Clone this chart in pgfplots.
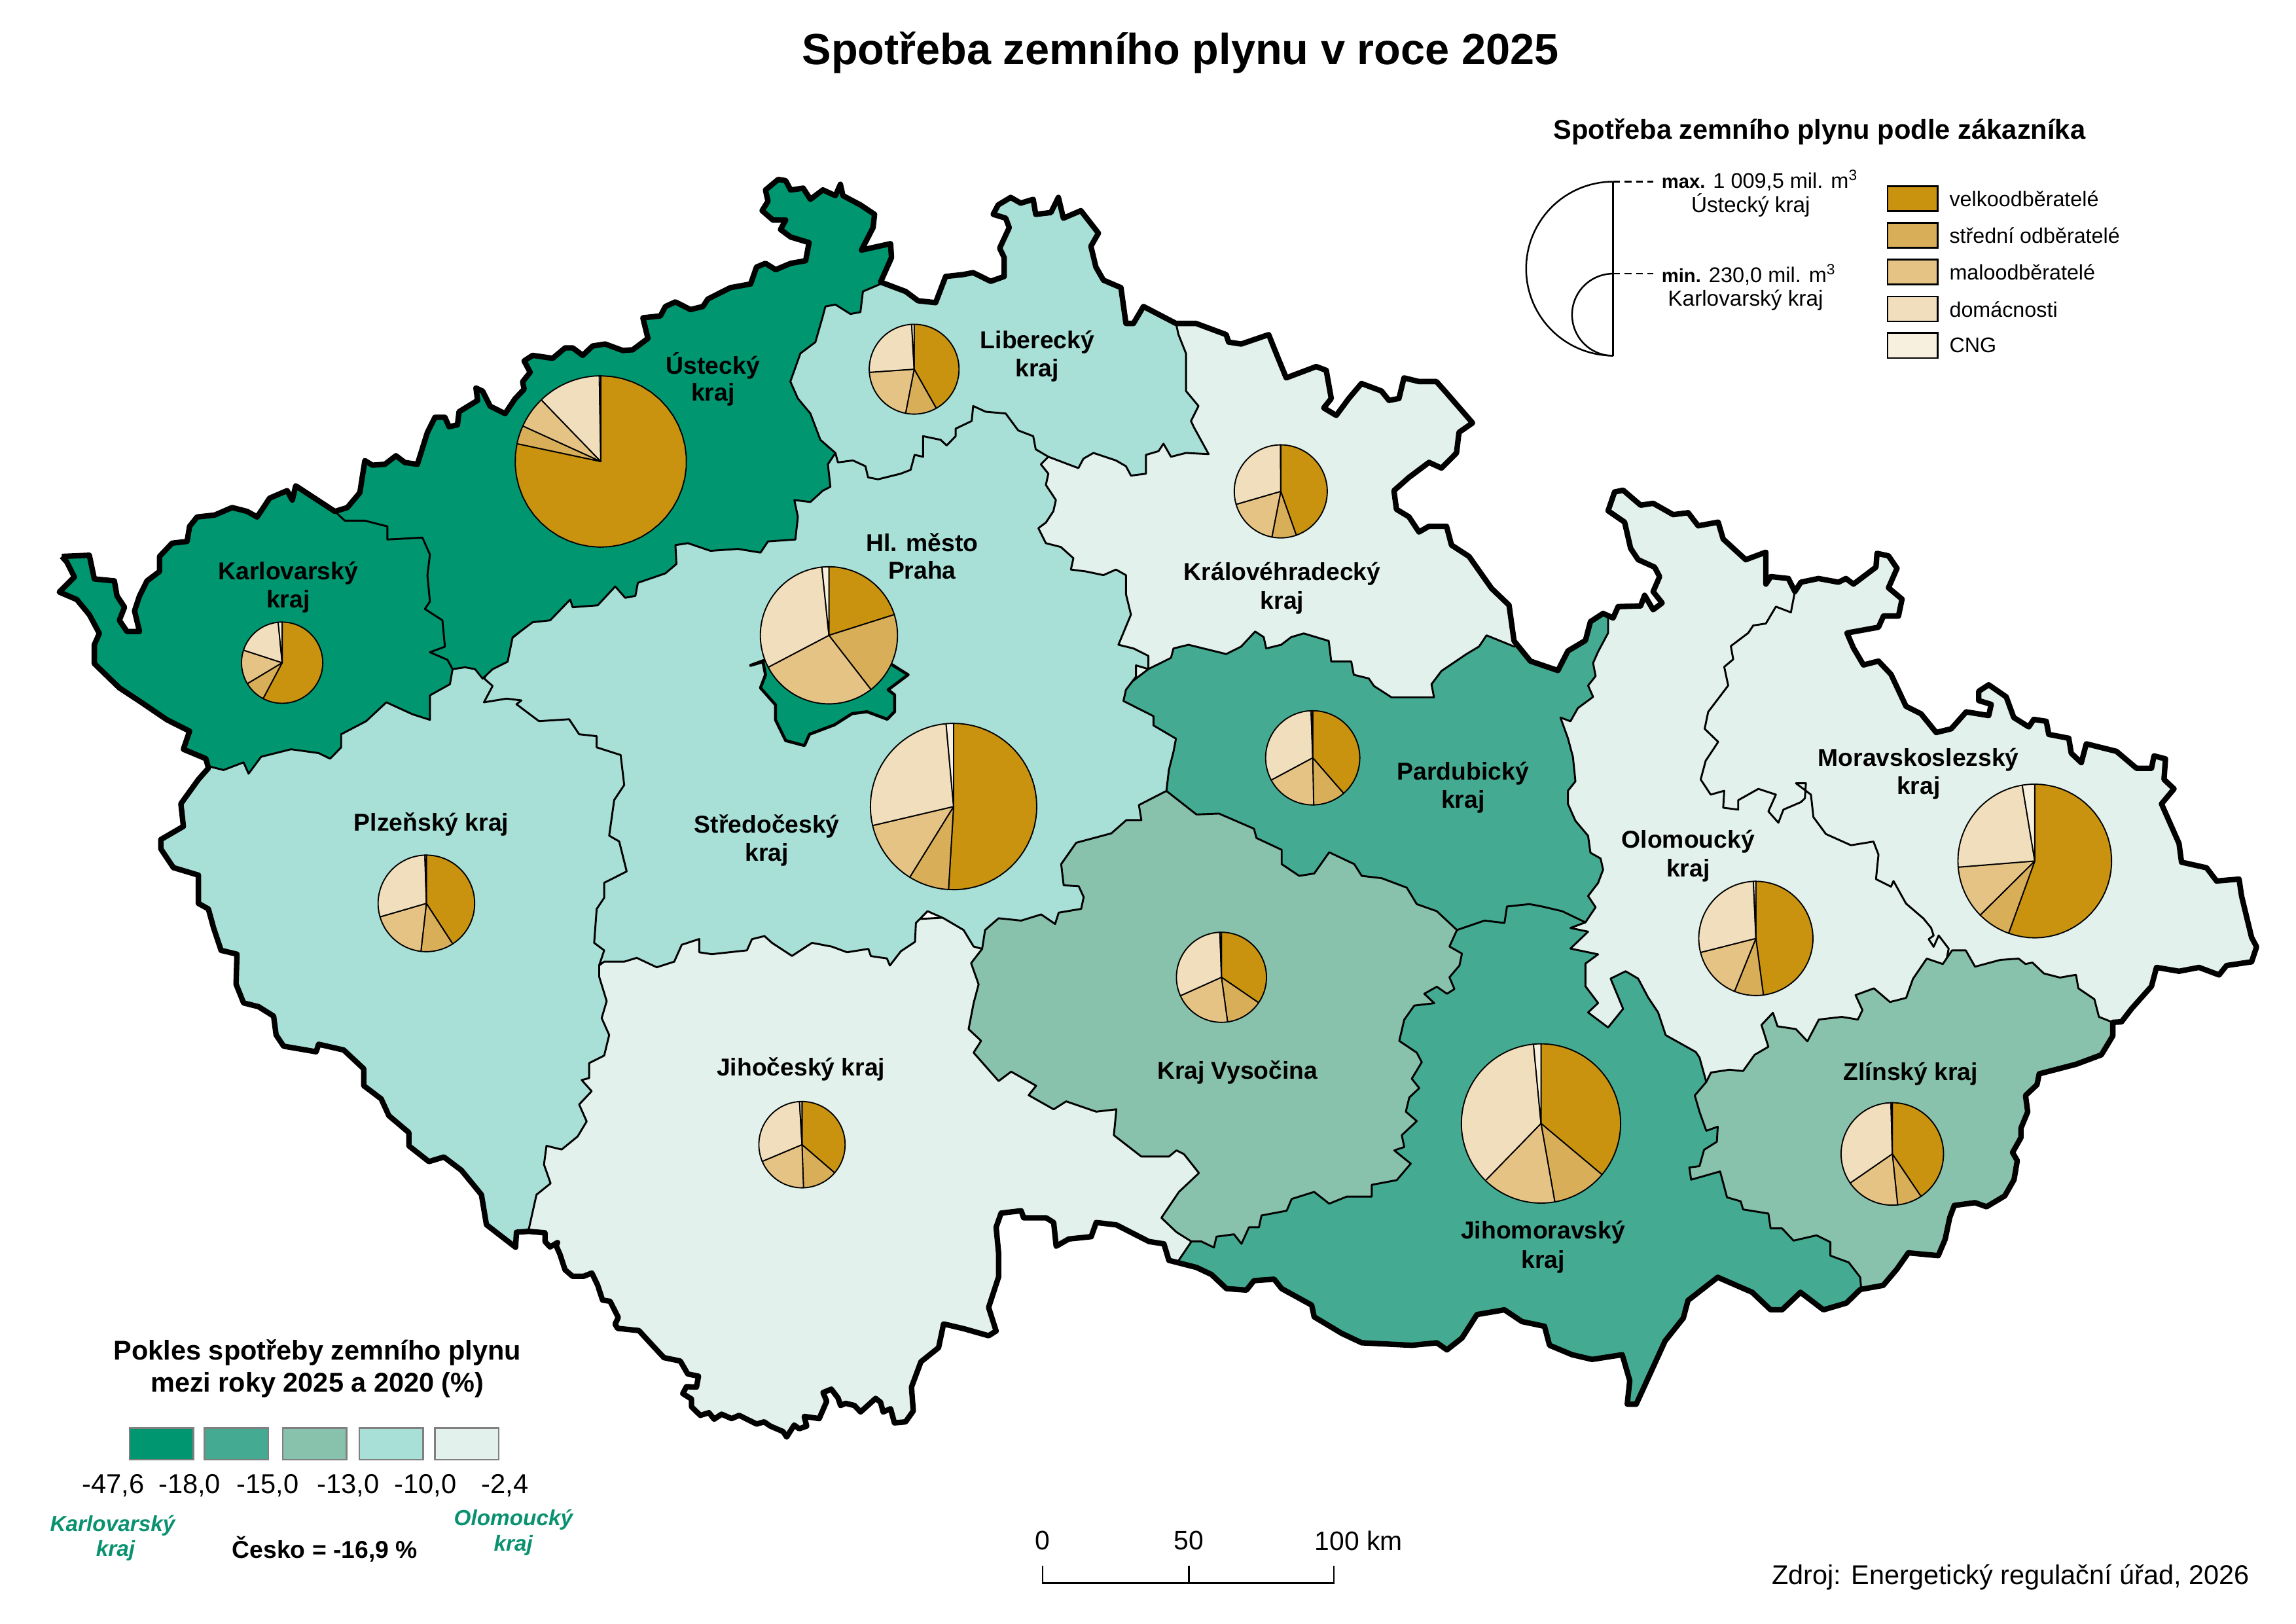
\documentclass[border=0pt]{standalone}
\usepackage{pgfplots}
\usepackage{pgfplotstable}
\usepackage{fontspec}
\setmainfont{Liberation Sans}
\pgfplotsset{compat=1.18}
\definecolor{c1}{HTML}{009670}
\definecolor{c2}{HTML}{44AB92}
\definecolor{c3}{HTML}{88C2AD}
\definecolor{c4}{HTML}{A8DFD6}
\definecolor{c5}{HTML}{E2F1EC}
\definecolor{cv}{HTML}{C9930F}
\definecolor{cs}{HTML}{D9AE58}
\definecolor{cm}{HTML}{E5C385}
\definecolor{cd}{HTML}{F0DEBC}
\definecolor{cn}{HTML}{F8F0DF}
\definecolor{gt}{HTML}{0A9270}
\pgfplotstableread{
x y
0 0
1560 0
1560 1102.9
0 1102.9
0 0
42.0 378.0
60.7 377.2
64.1 393.3
77.7 394.6
79.5 404.8
84.6 412.5
81.1 421.4
86.3 429.0
94.8 429.0
91.4 415.0
94.8 404.8
99.9 394.6
108.4 388.2
108.4 378.0
116.9 369.0
127.1 367.8
128.8 357.6
133.9 351.2
145.8 349.9
157.7 344.8
167.9 347.4
174.7 351.2
183.2 338.4
195.1 333.3
198.6 339.7
200.9 330.0
227.5 347.4
236.0 344.8
244.5 334.6
247.9 312.9
253.0 316.0
261.5 315.4
269.0 309.6
275.1 314.2
283.6 315.4
290.4 293.7
295.5 283.5
302.3 283.5
305.1 289.9
310.8 288.6
311.9 279.7
324.5 272.0
323.4 263.6
327.9 265.7
333.0 275.9
343.2 281.0
350.0 270.8
356.1 264.4
355.1 259.3
360.2 252.9
356.1 245.2
361.9 241.4
375.5 243.4
384.0 236.3
389.1 236.3
395.9 241.4
402.7 235.0
411.2 233.7
423.1 238.1
429.9 237.6
440.2 229.9
436.8 215.9
448.7 214.6
452.1 208.2
458.9 205.1
469.1 210.3
477.6 208.2
481.0 203.1
496.3 195.4
510.0 192.9
514.0 181.4
520.1 178.9
527.0 183.2
537.2 178.9
547.4 177.1
549.7 164.8
537.2 161.0
530.3 155.9
533.8 149.5
525.2 149.5
517.8 143.1
521.8 136.7
520.1 129.1
528.7 121.9
533.8 122.7
537.2 129.1
545.7 127.8
550.6 135.4
559.1 129.0
567.6 132.9
571.0 125.2
572.7 132.9
584.6 139.2
594.2 145.6
593.2 154.6
585.3 169.9
605.1 165.5
605.7 175.0
598.3 191.6
615.3 198.0
623.8 204.3
635.7 205.6
642.5 187.8
654.4 186.5
661.2 185.2
673.1 191.1
682.3 187.8
682.3 175.0
679.2 168.6
685.7 154.6
683.3 148.2
674.8 145.6
678.2 139.2
686.7 134.1
693.5 138.0
702.0 135.4
703.7 145.6
714.0 144.4
719.1 134.1
722.5 148.2
734.4 143.1
746.3 158.4
741.2 167.3
744.6 181.4
749.7 190.3
761.6 195.4
765.0 219.7
770.1 219.7
776.9 208.2
799.0 219.7
812.6 219.7
833.1 227.3
834.8 232.4
843.3 233.7
862.0 227.3
867.1 240.1
873.9 256.7
894.3 249.0
901.1 251.6
904.5 270.7
899.4 277.1
907.9 282.2
916.4 270.7
925.0 260.5
938.6 265.6
943.7 272.0
950.5 270.7
953.9 256.7
964.1 259.2
976.0 259.2
982.8 266.9
1000.5 287.3
991.3 293.7
989.6 307.7
979.4 318.0
970.9 314.1
957.3 324.3
947.1 333.3
948.8 346.0
957.3 351.1
964.1 361.4
970.9 357.5
982.8 357.5
986.2 370.3
998.1 378.0
1013.4 399.7
1025.3 411.1
1028.7 435.4
1039.8 449.1
1058.5 455.5
1065.3 442.2
1077.2 435.1
1080.6 422.3
1089.2 416.7
1096.0 419.8
1099.4 412.1
1114.7 411.6
1117.4 404.4
1123.2 414.2
1129.3 409.6
1123.2 401.9
1127.6 391.7
1124.2 385.3
1113.0 380.2
1107.9 372.5
1103.8 354.7
1092.6 347.0
1097.0 334.2
1102.8 333.0
1114.7 343.2
1123.2 341.9
1136.8 349.6
1147.0 348.3
1153.8 357.2
1167.4 354.7
1170.8 366.2
1186.1 380.2
1199.8 375.1
1199.8 396.8
1203.2 391.7
1215.1 393.0
1219.5 401.9
1223.6 395.5
1235.5 393.0
1249.1 395.5
1254.2 393.0
1259.3 396.8
1274.6 385.3
1275.3 375.9
1283.1 377.6
1288.9 386.1
1283.1 399.3
1292.3 407.0
1289.9 418.5
1279.7 418.5
1276.3 426.1
1254.9 430.0
1259.3 440.2
1266.1 451.7
1276.3 449.1
1284.8 458.1
1295.0 479.8
1305.2 484.9
1315.5 497.6
1325.7 495.1
1335.9 483.6
1351.2 486.1
1352.9 478.5
1344.4 475.9
1344.4 469.6
1351.2 465.2
1363.1 473.4
1368.2 487.4
1378.4 493.8
1381.8 488.7
1390.3 490.0
1392.0 498.9
1405.6 501.5
1407.3 511.7
1414.1 518.1
1417.5 505.3
1438.0 510.4
1451.6 521.9
1461.8 521.9
1463.5 513.5
1471.3 515.5
1470.3 529.5
1477.1 535.9
1468.6 546.1
1480.5 573.0
1482.2 585.7
1499.2 589.5
1506.0 598.5
1521.3 597.2
1523.0 608.7
1529.8 636.8
1533.2 643.2
1529.8 653.4
1512.8 655.9
1507.7 662.3
1494.1 657.2
1480.5 659.8
1465.2 657.2
1461.8 670.0
1448.2 685.3
1441.4 694.2
1435.5 694.5
1435.5 703.7
1427.7 716.6
1410.5 723.0
1385.5 729.5
1384.0 736.9
1376.2 744.2
1377.7 755.3
1373.1 766.4
1373.1 772.8
1367.4 782.9
1370.6 788.5
1368.4 801.4
1362.1 812.4
1349.7 819.8
1341.9 817.0
1327.8 818.9
1324.7 827.2
1321.6 841.9
1316.9 853.0
1296.6 851.1
1288.8 862.2
1279.5 873.2
1263.9 876.0
1254.5 885.2
1238.9 889.8
1223.3 877.9
1210.8 889.8
1203.0 889.8
1190.5 877.9
1167.1 867.7
1146.9 883.4
1143.7 895.4
1131.3 911.0
1111.7 953.9
1105.6 953.9
1107.3 937.9
1102.2 920.3
1081.7 923.5
1068.1 920.3
1052.8 913.9
1049.4 901.0
1034.1 897.8
1022.2 889.8
1003.5 893.0
993.3 909.0
983.1 917.0
976.2 912.2
959.2 913.9
925.2 912.2
911.6 905.8
892.9 894.6
891.2 886.6
870.8 875.4
865.7 869.0
852.0 870.0
846.9 876.4
833.3 875.4
823.1 865.8
812.9 861.0
794.2 856.2
790.8 845.0
780.6 843.4
758.5 832.1
744.8 830.5
741.4 840.1
726.1 841.7
717.6 846.6
715.9 830.5
710.8 827.3
695.5 827.3
693.8 822.5
680.2 824.1
676.8 833.7
678.5 851.4
678.5 867.4
671.7 888.2
676.8 904.2
671.7 907.4
654.7 902.6
641.1 899.4
637.7 915.5
625.7 925.1
619.3 942.3
620.5 958.5
615.3 965.9
607.7 966.6
605.1 957.0
600.0 959.2
598.3 952.6
594.9 950.0
584.7 959.2
580.5 954.8
574.5 953.3
571.1 954.8
569.4 949.7
564.8 943.7
559.2 946.0
561.7 951.9
556.6 963.7
546.4 962.2
548.1 968.8
543.0 970.6
539.6 968.1
534.5 976.2
532.0 972.5
523.4 968.8
519.2 965.9
514.1 967.4
502.2 961.5
497.1 963.7
490.3 960.7
485.2 964.1
481.7 959.7
475.8 961.5
469.8 955.6
469.8 950.4
463.9 946.7
466.4 942.0
473.2 942.3
474.6 934.9
467.3 933.4
462.2 924.6
451.1 922.3
444.3 915.0
434.1 903.9
419.6 902.4
417.9 899.5
420.1 895.0
414.5 884.0
409.4 883.2
406.0 872.9
402.1 864.8
396.6 867.0
389.0 867.0
383.9 862.6
380.5 852.2
377.9 846.3
378.8 844.1
373.7 847.1
370.3 843.4
370.3 837.5
359.3 836.5
350.9 837.1
350.3 847.3
330.5 832.0
327.1 811.6
313.5 795.0
301.6 786.0
291.4 789.1
277.8 778.4
277.8 769.4
264.2 757.9
259.0 746.5
247.1 737.5
247.1 726.0
233.5 713.3
216.5 709.4
214.8 714.5
192.7 710.7
187.6 703.1
185.9 690.3
175.7 683.9
165.5 681.3
160.4 668.6
161.0 648.2
150.2 645.6
145.1 630.3
141.6 617.5
134.8 613.7
134.8 594.5
117.8 589.4
109.3 576.7
109.3 570.3
124.6 561.4
122.9 546.0
134.8 529.5
141.6 521.8
139.9 515.4
124.6 509.0
128.8 496.7
113.5 489.0
94.8 476.3
81.1 467.3
64.1 450.8
64.1 438.0
67.5 430.3
60.7 417.6
52.2 407.3
40.3 402.2
50.5 392.0
45.4 381.8
42.0 378.0
}\outerT
\tikzset{reg/.style={draw=black,line width=.7pt,line join=round}}
\newcommand{\sect}[6]{\addplot[fill=#6,draw=black,line width=.45pt,line join=round,domain=#4:#5,samples=40,variable=\t] ({#1+#3*sin(t)},{#2-#3*cos(t)}) -- (axis cs:#1,#2) -- cycle;}
\newcommand{\pie}[7]{\sect{#1}{#2}{#3}{0}{#4}{cv}\sect{#1}{#2}{#3}{#4}{#5}{cs}\sect{#1}{#2}{#3}{#5}{#6}{cm}\sect{#1}{#2}{#3}{#6}{#7}{cd}\sect{#1}{#2}{#3}{#7}{360}{cn}}
\newcommand{\swatch}[6]{\addplot[fill=#5,draw=#6,line width=.6pt] coordinates {(#1,#3)(#2,#3)(#2,#4)(#1,#4)} -- cycle;}
\newcommand{\lab}[3]{\node[font=\fontsize{8.95}{10}\selectfont\bfseries,anchor=center] at (axis cs:#1,{#2+2}) {#3};}
\begin{document}
\begin{tikzpicture}
\begin{axis}[at={(0,0)},anchor=south west,scale only axis,width=842pt,height=595.3pt,
 xmin=0,xmax=1560,ymin=0,ymax=1102.9,y dir=reverse,hide axis,clip=false]
% Moravskoslezsky
\addplot[reg,fill=c5] coordinates {(1150,340)(1558,340)(1558,720)(1150,720)} -- cycle;
% Olomoucky
\addplot[reg,fill=c5] coordinates {(1219.5,401.9)(1216.8,416.0)(1206.6,412.1)(1199.8,423.6)(1191.2,424.9)(1187.8,430.0)(1176.0,438.9)(1177.6,447.9)(1171.5,453.0)(1174.2,465.7)(1160.6,483.6)(1158.2,495.1)(1167.4,504.0)(1158.9,516.8)(1155.5,529.5)(1162.3,539.8)(1171.5,537.2)(1170.8,548.7)(1181.0,550.0)(1181.0,543.6)(1194.7,535.9)(1206.6,539.8)(1201.5,551.2)(1208.3,558.9)(1211.7,550.0)(1223.6,544.9)(1226.3,542.3)(1227.0,532.1)(1220.2,532.1)(1230.4,539.8)(1232.1,555.1)(1240.6,566.6)(1257.6,574.2)(1272.9,571.7)(1276.3,580.6)(1274.6,597.2)(1284.8,602.3)(1286.5,598.5)(1295.0,613.8)(1306.9,624.0)(1312.1,630.4)(1313.8,635.5)(1310.4,638.0)(1313.8,643.2)(1317.2,635.5)(1324.0,644.4)(1322.3,653.4)(1300,720)(1170,760)(1040,730)(1040,620)(1060,460)(1080,400)(1085,310)(1210,330)(1225,380)} -- cycle;
% Zlinsky
\addplot[reg,fill=c3] coordinates {(1159.3,735.0)(1162.5,728.6)(1175.0,726.7)(1184.3,727.6)(1192.1,716.6)(1201.5,711.1)(1196.8,696.3)(1204.6,688.0)(1207.7,697.2)(1220.2,699.1)(1228.0,707.4)(1235.8,692.6)(1251.4,690.8)(1262.3,692.6)(1265.4,686.2)(1260.7,676.0)(1273.2,671.4)(1284.1,680.7)(1295.1,677.9)(1299.7,665.0)(1309.1,651.2)(1320.0,654.9)(1326.3,645.6)(1335.6,645.6)(1341.9,656.7)(1359.0,652.1)(1371.5,651.2)(1376.2,654.9)(1380.9,653.9)(1388.7,661.3)(1399.6,664.1)(1410.5,662.2)(1412.1,671.4)(1423.0,678.8)(1426.1,690.8)(1435.5,694.5)(1460,700)(1400,800)(1330,860)(1270,900)(1100,850)(1100,720)} -- cycle;
% Jihomoravsky
\addplot[reg,fill=c2] coordinates {(1077.2,626.6)(1067.0,630.4)(1079.0,632.9)(1067.0,644.4)(1085.8,648.3)(1077.2,654.6)(1077.2,670.0)(1085.8,681.4)(1079.0,687.8)(1092.6,698.0)(1102.8,685.3)(1094.3,664.8)(1104.5,659.8)(1113.0,664.8)(1119.8,677.6)(1126.6,687.8)(1131.7,703.2)(1152.1,714.6)(1154.7,718.4)(1159.3,735.0)(1151.5,744.2)(1154.7,755.3)(1159.3,768.2)(1167.1,765.4)(1166.5,775.6)(1157.8,781.1)(1154.7,792.2)(1147.8,793.1)(1149.0,801.4)(1168.7,795.8)(1173.4,813.4)(1182.7,816.1)(1184.3,821.6)(1201.5,824.4)(1203.0,834.5)(1210.8,834.5)(1218.6,842.8)(1234.2,839.2)(1243.6,843.8)(1243.6,853.0)(1256.1,857.6)(1263.9,867.7)(1264.5,875.1)(1270,930)(1150,990)(800,880)(800,800)(800,620)(1000,570)(1070,590)} -- cycle;
% Kralovehradecky
\addplot[reg,fill=c5] coordinates {(700,200)(1020,250)(1045,440)(1040,480)(800,520)(690,400)} -- cycle;
% Pardubicky
\addplot[reg,fill=c2] coordinates {(780.3,454.5)(795.6,446.9)(797.3,440.5)(807.5,438.0)(833.1,444.3)(843.3,439.2)(852.8,429.0)(858.6,432.8)(860.3,440.5)(870.5,438.0)(877.3,432.8)(885.8,430.3)(902.8,435.4)(904.5,449.4)(918.1,449.4)(919.8,458.4)(930.0,460.9)(933.5,466.0)(945.4,473.7)(974.3,473.7)(972.6,464.8)(979.4,455.8)(996.4,444.3)(1004.9,439.2)(1010.0,431.6)(1028.7,439.2)(1060,430)(1085,405)(1092.6,418.5)(1092.6,430.0)(1085.8,442.7)(1082.4,450.4)(1084.1,459.3)(1079.0,465.7)(1082.4,473.4)(1072.1,481.0)(1067.0,490.0)(1060.2,487.4)(1065.3,501.5)(1068.7,514.2)(1070.4,530.8)(1065.3,537.2)(1065.3,546.1)(1070.4,557.6)(1079.0,567.8)(1080.6,579.3)(1087.5,583.2)(1089.2,590.8)(1085.8,599.8)(1079.0,608.7)(1084.1,616.3)(1077.2,626.6)(1061.4,619.0)(1047.7,615.8)(1039.2,614.2)(1023.9,615.8)(1022.2,627.0)(1008.6,625.4)(989.9,631.8)(850,640)(770,540)(760,470)} -- cycle;
% Jihocesky
\addplot[reg,fill=c5] coordinates {(350,640)(700,620)(800,700)(820,800)(809.5,843.4)(801,856)(790,880)(600,1000)(350,1000)} -- cycle;
% Vysocina
\addplot[reg,fill=c3] coordinates {(989.9,631.8)(984.8,643.0)(993.3,647.8)(991.6,655.9)(984.8,663.9)(988.2,671.9)(983.1,675.1)(976.2,670.3)(967.7,675.1)(974.5,681.5)(960.9,683.1)(954.1,692.7)(950.7,707.1)(962.6,715.1)(966.0,721.6)(959.2,732.8)(964.3,739.2)(957.5,745.6)(955.2,755.2)(962.6,761.6)(952.4,771.2)(954.1,779.2)(947.3,781.5)(958.5,790.5)(949.0,801.7)(932.0,804.9)(932.0,812.9)(915.0,812.9)(903.1,817.7)(892.9,809.7)(877.6,814.5)(874.2,822.5)(857.1,825.7)(855.4,833.7)(848.6,833.7)(843.5,845.0)(838.4,838.5)(826.5,840.1)(824.8,847.5)(816.3,843.4)(809.5,843.4)(799.3,837.0)(789.1,827.3)(801.0,809.7)(814.6,796.9)(804.4,784.0)(799.3,781.5)(794.2,785.7)(775.5,785.7)(756.8,771.2)(758.5,753.6)(744.8,755.2)(724.4,748.2)(715.9,753.6)(698.9,744.0)(704.0,737.6)(687.0,728.0)(678.5,734.4)(661.5,715.1)(666.6,707.1)(658.1,699.1)(661.5,681.5)(664.9,668.7)(659.8,654.3)(667.3,644.6)(660,625)(690,600)(760,530)(792.5,537.3)(812.9,553.3)(828.2,552.7)(838.4,557.1)(852.0,563.0)(853.7,569.3)(870.8,577.3)(870.8,587.0)(882.7,595.0)(892.9,593.4)(903.1,579.0)(920.1,587.0)(925.2,595.0)(938.8,596.6)(955.8,603.0)(962.6,614.2)(976.2,619.0)} -- cycle;
% Plzensky
\addplot[reg,fill=c4] coordinates {(407.1,655.8)(407.1,663.5)(412.2,680.1)(408.8,691.6)(413.9,703.1)(410.5,717.1)(400.3,722.2)(400.3,732.4)(395.2,733.7)(402.0,741.3)(393.5,750.3)(398.6,761.8)(392.5,772.0)(381.6,780.9)(371.3,778.4)(369.6,791.1)(374.1,803.9)(364.5,811.6)(359.4,834.5)(340,860)(100,640)(90,520)(200,440)(420,440)(440,600)} -- cycle;
% Stredocesky
\addplot[reg,fill=c4] coordinates {(407.1,655.8)(410.5,645.6)(403.7,640.5)(405.4,617.5)(410.5,609.9)(410.5,599.7)(425.8,592.0)(420.7,571.6)(413.9,567.7)(417.3,543.5)(424.1,533.3)(421.7,512.9)(405.4,507.7)(405.4,500.1)(393.5,498.8)(386.7,488.6)(366.2,489.9)(350.9,478.4)(354.3,475.8)(344.1,474.6)(328.8,477.1)(334.7,466.0)(329,461)(340,440)(560,260)(700,260)(712.3,310.3)(707.2,315.4)(712.3,321.8)(710.6,329.4)(717.4,339.7)(715.7,347.3)(710.6,355.0)(705.5,358.8)(710.6,369.0)(720.8,371.6)(729.3,379.2)(727.6,386.9)(737.8,388.2)(749.7,390.7)(758.2,386.9)(765.0,390.7)(765.0,403.5)(768.4,417.5)(759.9,438.0)(770.1,440.5)(780.3,445.6)(780.3,454.5)(771.8,452.0)(771.8,459.7)(765.0,468.6)(763.3,476.2)(783.7,486.5)(783.7,492.8)(799.0,501.8)(797.3,510.7)(794.2,522.9)(792.5,537.3)(773.8,546.9)(775.5,557.1)(765.3,557.1)(755.1,566.1)(731.2,572.5)(721.0,587.0)(722.7,601.4)(732.9,602.0)(736.3,609.4)(734.6,617.4)(719.3,620.0)(716.9,627.7)(707.4,621.2)(693.8,625.4)(678.5,623.8)(669.3,631.8)(667.3,644.6)(661.5,643.0)(654.7,631.8)(641.1,623.8)(630.2,619.0)(622.3,627.0)(621.7,639.8)(612.1,646.2)(604.6,655.9)(602.6,651.1)(591.7,649.5)(590.0,644.6)(575.5,646.9)(565.3,643.1)(551.7,640.5)(538.1,649.4)(524.5,640.5)(519.4,635.9)(510.9,638.0)(507.5,645.6)(483.6,648.2)(475.1,646.9)(475.1,637.9)(463.2,641.8)(458.1,653.3)(446.2,657.1)(432.6,650.7)(424.1,653.3)(410.5,653.3)} -- cycle;
% Liberecky
\addplot[reg,fill=c4] coordinates {(567.6,307.7)(569.3,314.1)(579.5,312.8)(588.0,316.7)(589.8,324.3)(596.6,325.6)(611.9,321.8)(618.7,319.2)(621.4,309.0)(627.2,310.3)(627.2,296.3)(639.1,298.8)(643.2,302.6)(649.3,296.3)(649.3,291.2)(660.2,286.0)(661.2,275.8)(669.7,279.7)(683.3,280.9)(691.8,292.4)(702.0,296.3)(703.7,305.2)(712.3,310.3)(732.7,318.0)(736.1,311.6)(742.9,307.7)(758.2,312.8)(765.0,316.7)(768.4,323.1)(778.6,321.8)(778.6,309.0)(787.1,306.5)(790.5,301.4)(795.6,310.3)(805.8,307.7)(821.2,308.5)(811.0,289.9)(809.2,286.0)(814.3,275.8)(805.8,265.6)(805.8,240.1)(800.7,227.3)(799.0,219.7)(810,190)(700,90)(540,110)(520,270)(545,310)} -- cycle;
% Ustecky
\addplot[reg,fill=c1] coordinates {(300,456)(307.5,454.6)(316.0,453.3)(322.8,454.6)(327.9,461.0)(334.7,454.6)(344.9,449.5)(348.3,432.9)(361.9,422.7)(373.8,421.4)(387.4,407.3)(389.1,412.5)(406.1,411.2)(418.0,398.4)(424.8,406.1)(431.7,404.8)(433.4,395.9)(452.1,389.5)(459.6,383.1)(458.9,370.3)(467.4,369.0)(482.7,374.2)(501.4,372.9)(516.7,375.4)(521.8,367.8)(540.4,366.5)(542.1,351.1)(539.7,339.7)(550.6,341.0)(559.1,333.3)(564.2,330.7)(562.5,315.4)(567.6,307.7)(557.4,298.8)(550.6,280.9)(542.1,270.7)(537.0,259.2)(543.8,240.1)(554.0,232.4)(559.1,214.6)(560.8,208.2)(567.6,206.9)(577.8,213.3)(584.6,212.0)(586.3,198.0)(598.3,192.9)(620,170)(620,100)(500,100)(200,300)(220,420)} -- cycle;
% Karlovarsky
\addplot[reg,fill=c1] coordinates {(227.5,347.4)(234.3,353.7)(247.9,353.7)(263.2,357.6)(263.2,366.5)(287.0,365.2)(292.1,376.7)(290.4,390.8)(292.1,408.6)(288.7,413.7)(300.6,421.4)(302.3,439.3)(292.1,443.1)(304.0,448.2)(307.5,454.6)(305.7,464.8)(292.1,472.4)(292.1,489.0)(280.2,485.2)(262.5,477.1)(248.8,489.9)(231.8,498.8)(231.8,507.7)(224.3,515.4)(216.5,511.6)(197.8,509.0)(177.4,514.1)(168.9,525.6)(165.5,517.9)(151.9,523.1)(141.6,520.5)(100,530)(20,500)(20,340)(220,320)} -- cycle;
% Praha
\addplot[draw=black,line width=1.1pt,line join=round,fill=c1] coordinates {(510.0,452.0)(518.4,449.5)(520.1,458.4)(516.7,467.3)(526.9,478.8)(526.9,489.0)(533.8,503.1)(546.6,506.5)(550.0,498.8)(567.0,492.4)(578.9,484.8)(589.1,483.5)(602.8,488.6)(607.8,483.5)(607.8,472.0)(603.4,468.6)(617.0,458.4)(606.8,452.0)(570,430)} -- cycle;
% white outside, country outline
\addplot[fill=white,draw=none,even odd rule] table[x index=0,y index=1] {\outerT};
\addplot[draw=black,line width=2pt,line join=round,skip coords between index={0}{5}] table[x index=0,y index=1] {\outerT};
% pies
\pie{408.2}{313.5}{58.2}{282}{294.5}{316}{359}
\pie{191.7}{450.2}{27.6}{208}{239}{288}{354.4}
\pie{621.1}{250.8}{30.5}{150.5}{191}{266}{356.8}
\pie{870.2}{333.8}{31.6}{160.5}{191}{253.8}{359.7}
\pie{563.2}{431.6}{46.6}{72.4}{142.2}{242.3}{354.1}
\pie{647.9}{547.9}{56.5}{183.5}{211.8}{256.8}{354.8}
\pie{289.7}{613.7}{32.8}{147}{186.5}{253.8}{358.2}
\pie{544.9}{777.6}{29.3}{130.8}{178}{247.2}{356.7}
\pie{829.9}{663.9}{30.6}{124.4}{172.2}{245.8}{358}
\pie{891.9}{514.8}{32}{139}{178.8}{241.8}{358}
\pie{1047.0}{763.2}{54.1}{130}{170}{224.2}{354.6}
\pie{1193.0}{637.5}{38.8}{172.4}{202}{255.8}{357.5}
\pie{1382.5}{584.9}{52.2}{199.9}{225.3}{265.4}{350.6}
\pie{1285.7}{783.9}{34.8}{146}{174}{235.4}{358.5}
% region labels
\lab{484.4}{246.5}{Ústecký}\lab{484.4}{266.2}{kraj}
\lab{195.8}{387.4}{Karlovarský}\lab{195.8}{406.6}{kraj}
\lab{704.8}{230.6}{Liberecký}\lab{704.8}{249.8}{kraj}
\lab{871.2}{387.7}{Královéhradecký}\lab{871.2}{407.3}{kraj}
\lab{626.5}{366.5}{Hl. město}\lab{626.5}{385.6}{Praha}
\lab{293.1}{558}{Plzeňský kraj}
\lab{521.1}{559.3}{Středočeský}\lab{521.1}{578.5}{kraj}
\lab{544.2}{724.2}{Jihočeský kraj}
\lab{840.8}{726.4}{Kraj Vysočina}
\lab{994}{523.5}{Pardubický}\lab{994}{542.7}{kraj}
\lab{1048.4}{835.3}{Jihomoravský}\lab{1048.4}{855.2}{kraj}
\lab{1147}{569.9}{Olomoucký}\lab{1147}{589.5}{kraj}
\lab{1303.5}{514.2}{Moravskoslezský}\lab{1303.5}{533.4}{kraj}
\lab{1298.2}{727.6}{Zlínský kraj}
% title
\node[font=\fontsize{16}{18}\selectfont\bfseries] at (axis cs:802,35.8) {Spotřeba zemního plynu v roce 2025};
% size legend
\node[font=\fontsize{10}{11}\selectfont\bfseries] at (axis cs:1236.2,89.3) {Spotřeba zemního plynu podle zákazníka};
\addplot[domain=180:360,samples=60,variable=\t,draw=black,line width=.6pt] ({1096+59.1*sin(t)},{182.5-59.1*cos(t)});
\addplot[domain=180:360,samples=50,variable=\t,draw=black,line width=.6pt] ({1096+27.9*sin(t)},{213.8-27.9*cos(t)});
\addplot[draw=black,line width=.6pt] coordinates {(1096,123.4)(1096,241.7)};
\addplot[draw=black,line width=.6pt,dash pattern=on 2.6pt off 1.6pt] coordinates {(1096,123.4)(1123.2,123.4)};
\addplot[draw=black,line width=.6pt,dash pattern=on 2.6pt off 1.6pt] coordinates {(1096,185.9)(1123.2,185.9)};
\node[font=\fontsize{7.8}{9}\selectfont,anchor=west] at (axis cs:1122.5,122.7) {{\fontsize{7}{9}\selectfont\bfseries max.} 1 009,5 mil. m\textsuperscript{3}};
\node[font=\fontsize{8}{9}\selectfont] at (axis cs:1189.5,139.3) {Ústecký kraj};
\node[font=\fontsize{7.8}{9}\selectfont,anchor=west] at (axis cs:1122.5,186.7) {{\fontsize{7}{9}\selectfont\bfseries min.} 230,0 mil. m\textsuperscript{3}};
\node[font=\fontsize{8}{9}\selectfont] at (axis cs:1186,204) {Karlovarský kraj};
\swatch{1282.4}{1316.5}{126.4}{143.5}{cv}{black}
\swatch{1282.4}{1316.5}{151.3}{168.3}{cs}{black}
\swatch{1282.4}{1316.5}{176.2}{193.2}{cm}{black}
\swatch{1282.4}{1316.5}{201.4}{218.4}{cd}{black}
\swatch{1282.4}{1316.5}{226.2}{243.2}{cn}{black}
\node[font=\fontsize{7.75}{9}\selectfont,anchor=west] at (axis cs:1318,135) {velkoodběratelé};
\node[font=\fontsize{7.75}{9}\selectfont,anchor=west] at (axis cs:1318,160) {střední odběratelé};
\node[font=\fontsize{7.75}{9}\selectfont,anchor=west] at (axis cs:1318,185) {maloodběratelé};
\node[font=\fontsize{7.75}{9}\selectfont,anchor=west] at (axis cs:1318,210) {domácnosti};
\node[font=\fontsize{7.75}{9}\selectfont,anchor=west] at (axis cs:1318,234.7) {CNG};
% choropleth legend
\node[font=\fontsize{9.95}{11}\selectfont\bfseries] at (axis cs:215.6,919) {Pokles spotřeby zemního plynu};
\node[font=\fontsize{9.95}{11}\selectfont\bfseries] at (axis cs:215.6,941) {mezi roky 2025 a 2020 (\%)};
\swatch{88}{131.4}{970}{991.7}{c1}{gray}
\swatch{139}{182.4}{970}{991.7}{c2}{gray}
\swatch{192.1}{235.5}{970}{991.7}{c3}{gray}
\swatch{244.2}{287.5}{970}{991.7}{c4}{gray}
\swatch{295.4}{338.8}{970}{991.7}{c5}{gray}
\node[font=\fontsize{10}{11}\selectfont] at (axis cs:77,1009.4) {-47,6};
\node[font=\fontsize{10}{11}\selectfont] at (axis cs:128.8,1009.4) {-18,0};
\node[font=\fontsize{10}{11}\selectfont] at (axis cs:181.9,1009.4) {-15,0};
\node[font=\fontsize{10}{11}\selectfont] at (axis cs:236.5,1009.4) {-13,0};
\node[font=\fontsize{10}{11}\selectfont] at (axis cs:289.1,1009.4) {-10,0};
\node[font=\fontsize{10}{11}\selectfont] at (axis cs:343.2,1009.4) {-2,4};
\node[font=\fontsize{8}{9}\selectfont\bfseries\itshape,text=gt] at (axis cs:76.5,1036.5) {Karlovarský};
\node[font=\fontsize{8}{9}\selectfont\bfseries\itshape,text=gt] at (axis cs:78.5,1053.5) {kraj};
\node[font=\fontsize{8}{9}\selectfont\bfseries\itshape,text=gt] at (axis cs:348.8,1032.6) {Olomoucký};
\node[font=\fontsize{8}{9}\selectfont\bfseries\itshape,text=gt] at (axis cs:348.8,1049.7) {kraj};
\node[font=\fontsize{8.95}{9}\selectfont\bfseries] at (axis cs:220.7,1052.3) {Česko = -16,9 \%};
% scale bar
\addplot[draw=black,line width=.6pt] coordinates {(708.3,1063.5)(708.3,1075.4)(906.3,1075.4)(906.3,1063.5)};
\addplot[draw=black,line width=.6pt] coordinates {(807.8,1063.5)(807.8,1075.4)};
\node[font=\fontsize{9.8}{11}\selectfont] at (axis cs:708.3,1046.5) {0};
\node[font=\fontsize{9.8}{11}\selectfont] at (axis cs:807.8,1046.5) {50};
\node[font=\fontsize{9.8}{11}\selectfont] at (axis cs:923,1046.5) {100 km};
\node[font=\fontsize{9.95}{11}\selectfont,anchor=east] at (axis cs:1535,1071.4) {Zdroj: Energetický regulační úřad, 2026};
\end{axis}
\end{tikzpicture}
\end{document}
